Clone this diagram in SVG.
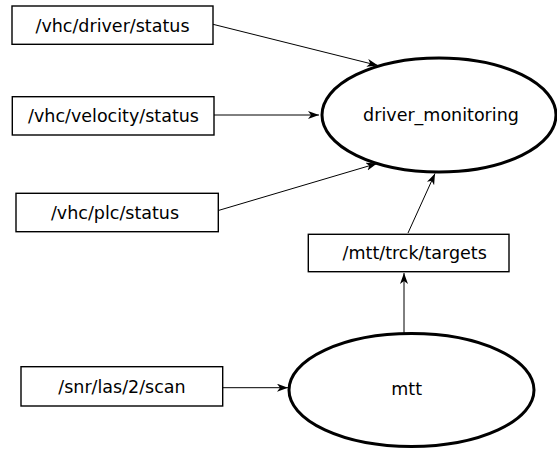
<svg xmlns="http://www.w3.org/2000/svg" width="557" height="450" viewBox="0 0 557 450">
<style>
.box{fill:#fff;stroke:#000;stroke-width:1.4}
.ell{fill:#fff;stroke:#000;stroke-width:3}
.lbl{font-family:"DejaVu Sans",sans-serif;font-size:17.5px;fill:#000;text-anchor:middle}
.edge{stroke:#000;stroke-width:1;fill:none;marker-end:url(#arr)}
</style>
<defs>
<marker id="arr" markerUnits="userSpaceOnUse" markerWidth="12" markerHeight="10" refX="11" refY="4" orient="auto">
<path d="M0,0 L11,4 L0,8 L3,4 z" fill="#000"/>
</marker>
</defs>
<rect width="557" height="450" fill="#fff"/>
<g id="connectors">
<line class="edge" x1="213" y1="24.3" x2="378" y2="65.5"/>
<line class="edge" x1="214" y1="115" x2="319" y2="115"/>
<line class="edge" x1="218.3" y1="210.5" x2="377" y2="163.5"/>
<line class="edge" x1="408" y1="233" x2="435" y2="173.5"/>
<line class="edge" x1="404" y1="333" x2="404" y2="273"/>
<line class="edge" x1="222.7" y1="387.7" x2="288" y2="387.7"/>
</g>
<g id="vhc_driver_status">
<rect class="box" x="12" y="6" width="201" height="38.3"/>
<text class="lbl" x="112.5" y="32.3">/vhc/driver/status</text>
</g>
<g id="vhc_velocity_status">
<rect class="box" x="12.3" y="96.7" width="201.7" height="38.3"/>
<text class="lbl" x="113.5" y="121.5">/vhc/velocity/status</text>
</g>
<g id="vhc_plc_status">
<rect class="box" x="16" y="193.3" width="202.3" height="38.4"/>
<text class="lbl" x="115" y="218.5">/vhc/plc/status</text>
</g>
<g id="driver_monitoring">
<ellipse class="ell" cx="439" cy="115" rx="117" ry="57"/>
<text class="lbl" x="441" y="121">driver_monitoring</text>
</g>
<g id="mtt_trck_targets">
<rect class="box" x="308.3" y="234.3" width="200.7" height="37.4"/>
<text class="lbl" x="414.7" y="259.3">/mtt/trck/targets</text>
</g>
<g id="snr_las_2_scan">
<rect class="box" x="21" y="366.7" width="201.7" height="39.3"/>
<text class="lbl" x="122" y="392.7">/snr/las/2/scan</text>
</g>
<g id="mtt">
<ellipse class="ell" cx="411.5" cy="390" rx="122.5" ry="56.5"/>
<text class="lbl" x="406.7" y="394.5">mtt</text>
</g>
</svg>
